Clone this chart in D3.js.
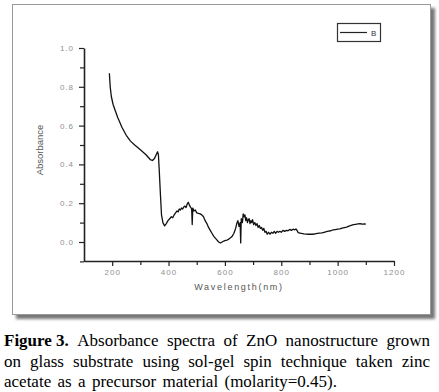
<!DOCTYPE html>
<html>
<head>
<meta charset="utf-8">
<script src="https://cdn.jsdelivr.net/npm/d3@7"></script>
<style>
  body { margin: 0; background: #fff; }
  svg { display: block; }
</style>
</head>
<body>
<div class="fig"></div>
<script>
// spectrum
var wavelength = [190, 193, 197, 203, 210, 220, 235, 250, 265, 280, 300, 320, 335, 343, 350, 356, 361, 364, 367, 371, 375, 380, 386, 392, 398, 404, 410, 415, 420, 425, 430, 434, 438, 442, 446, 450, 454, 458, 462, 466, 470, 474, 478, 482, 484, 486, 490, 495, 500, 506, 512, 518, 524, 530, 536, 542, 548, 554, 560, 566, 572, 578, 584, 590, 596, 602, 608, 614, 620, 626, 632, 638, 642, 646, 650, 654, 656, 658, 662, 665, 668, 671, 674, 677, 680, 683, 686, 689, 692, 695, 698, 702, 706, 710, 714, 718, 722, 726, 730, 734, 738, 742, 746, 750, 755, 760, 765, 770, 775, 780, 785, 790, 795, 800, 806, 812, 818, 824, 830, 836, 842, 848, 852, 856, 860, 866, 872, 880, 888, 896, 904, 912, 920, 928, 936, 944, 952, 960, 968, 976, 984, 992, 1000, 1008, 1016, 1024, 1032, 1040, 1048, 1056, 1064, 1072, 1080, 1088, 1096, 1100];
var absorbance = [0.87, 0.80, 0.75, 0.71, 0.68, 0.64, 0.59, 0.55, 0.52, 0.50, 0.475, 0.45, 0.425, 0.42, 0.43, 0.45, 0.465, 0.45, 0.37, 0.25, 0.14, 0.10, 0.083, 0.095, 0.11, 0.12, 0.13, 0.125, 0.14, 0.15, 0.16, 0.155, 0.17, 0.165, 0.175, 0.17, 0.18, 0.185, 0.178, 0.195, 0.205, 0.19, 0.18, 0.17, 0.09, 0.175, 0.16, 0.165, 0.15, 0.148, 0.145, 0.14, 0.13, 0.11, 0.095, 0.075, 0.06, 0.045, 0.03, 0.02, 0.01, 0.0, -0.005, 0.0, 0.005, 0.008, 0.01, 0.015, 0.022, 0.03, 0.045, 0.07, 0.095, 0.11, 0.08, 0.10, -0.005, 0.12, 0.10, 0.145, 0.13, 0.14, 0.11, 0.125, 0.10, 0.115, 0.12, 0.095, 0.11, 0.10, 0.115, 0.09, 0.10, 0.085, 0.095, 0.075, 0.085, 0.07, 0.075, 0.06, 0.07, 0.05, 0.055, 0.04, 0.05, 0.04, 0.05, 0.045, 0.055, 0.045, 0.055, 0.05, 0.055, 0.05, 0.06, 0.055, 0.06, 0.058, 0.065, 0.06, 0.066, 0.063, 0.067, 0.06, 0.048, 0.046, 0.044, 0.042, 0.041, 0.04, 0.04, 0.04, 0.042, 0.044, 0.046, 0.047, 0.05, 0.053, 0.056, 0.058, 0.062, 0.064, 0.066, 0.068, 0.071, 0.074, 0.077, 0.082, 0.086, 0.089, 0.091, 0.093, 0.094, 0.092, 0.093, 0.092];
var xTicks = [200, 400, 600, 800, 1000, 1200];
var xMinor = [300, 500, 700, 900, 1100];
var yTicks = [0.0, 0.2, 0.4, 0.6, 0.8, 1.0];
var yMinor = [-0.1, 0.1, 0.3, 0.5, 0.7, 0.9];
var seriesName = "B";
var captionLines = [
  [{t: "Figure 3.", b: true}, {t: "Absorbance"}, {t: "spectra"}, {t: "of"}, {t: "ZnO"}, {t: "nanostructure"}, {t: "grown"}],
  [{t: "on"}, {t: "glass"}, {t: "substrate"}, {t: "using"}, {t: "sol-gel"}, {t: "spin"}, {t: "technique"}, {t: "taken"}, {t: "zinc"}],
  [{t: "acetate"}, {t: "as"}, {t: "a"}, {t: "precursor"}, {t: "material"}, {t: "(molarity=0.45)."}]
];

var W = 439, H = 392;
var svg = d3.select(".fig").append("svg")
    .attr("width", W)
    .attr("height", H);

var defs = svg.append("defs");
var f = defs.append("filter").attr("id", "shadow")
    .attr("x", "-5%").attr("y", "-5%").attr("width", "115%").attr("height", "115%");
f.append("feDropShadow").attr("dx", 4).attr("dy", 4).attr("stdDeviation", 1.5)
    .attr("flood-color", "#555").attr("flood-opacity", 0.8);

//outer frame with shadow
svg.append("rect")
    .attr("x", 12.5).attr("y", 4.5)
    .attr("width", 418).attr("height", 310)
    .attr("fill", "#fff")
    .attr("stroke", "#999")
    .attr("filter", "url(#shadow)");

var x = d3.scaleLinear().domain([100, 1200]).range([84, 394]);
var y = d3.scaleLinear().domain([-0.1, 1.0]).range([261.4, 48]);

var tickGrey = "#909090";

//x axis
var xAxis = svg.append("g").attr("transform", "translate(0,261)")
    .call(d3.axisBottom(x).tickValues(xTicks).tickSize(5).tickSizeOuter(0).tickFormat(d3.format("d")));
svg.append("g").attr("transform", "translate(0,261)")
    .call(d3.axisBottom(x).tickValues(xMinor).tickSize(4).tickSizeOuter(0).tickFormat(""))
    .select(".domain").remove();

//y axis
var yAxis = svg.append("g").attr("transform", "translate(84,0)")
    .call(d3.axisLeft(y).tickValues(yTicks).tickSize(5).tickSizeOuter(0).tickFormat(d3.format(".1f")));
svg.append("g").attr("transform", "translate(84,0)")
    .call(d3.axisLeft(y).tickValues(yMinor).tickSize(4).tickSizeOuter(0).tickFormat(""))
    .select(".domain").remove();

svg.selectAll(".domain").attr("stroke", "#222").attr("stroke-width", 1.6);
svg.selectAll(".tick line").attr("stroke", "#222").attr("stroke-width", 1.2);
svg.selectAll(".tick text")
    .attr("fill", tickGrey)
    .attr("font-family", "Liberation Sans, Arial, sans-serif")
    .attr("font-size", "8px")
    .attr("letter-spacing", "1px");
xAxis.selectAll(".tick text").attr("dy", "0.71em").attr("y", 8);
yAxis.selectAll(".tick text").attr("x", -10);

//axis titles
svg.append("text")
    .attr("x", 239).attr("y", 290)
    .attr("text-anchor", "middle")
    .attr("font-family", "Liberation Sans, Arial, sans-serif")
    .attr("font-size", "9px")
    .attr("letter-spacing", "1.7px")
    .attr("fill", "#555")
    .text("Wavelength(nm)");
svg.append("text")
    .attr("transform", "translate(43,150) rotate(-90)")
    .attr("text-anchor", "middle")
    .attr("font-family", "Liberation Sans, Arial, sans-serif")
    .attr("font-size", "9.5px")
    .attr("fill", "#555")
    .text("Absorbance");

//spectrum line
var pts = wavelength.map(function(d, i) { return [d, absorbance[i]]; });
var line = d3.line().x(function(d) { return x(d[0]); }).y(function(d) { return y(d[1]); });
svg.append("path")
    .datum(pts)
    .attr("d", line)
    .attr("fill", "none")
    .attr("stroke", "#111")
    .attr("stroke-width", 1.3)
    .attr("stroke-linejoin", "round");

//legend
var lg = svg.append("g").attr("transform", "translate(337,23)");
lg.append("rect").attr("x", 0.5).attr("y", 0.5).attr("width", 43).attr("height", 18)
    .attr("fill", "#fff").attr("stroke", "#333").attr("stroke-width", 1.2);
lg.append("line").attr("x1", 3).attr("x2", 30).attr("y1", 9.5).attr("y2", 9.5)
    .attr("stroke", "#222").attr("stroke-width", 1.2);
lg.append("text").attr("x", 34).attr("y", 12.5)
    .attr("font-family", "Liberation Sans, Arial, sans-serif")
    .attr("font-size", "8px")
    .attr("fill", "#334")
    .text(seriesName);

//caption, justified word by word
var cap = svg.append("g");
var lineY = [346, 367, 387];
var left = 4, right = 430, lastRight = 337;
captionLines.forEach(function(words, li) {
  var nodes = words.map(function(w) {
    return cap.append("text")
        .attr("y", lineY[li])
        .attr("font-family", "Liberation Serif, Times New Roman, serif")
        .attr("font-size", "17px")
        .attr("font-weight", w.b ? "bold" : "normal")
        .attr("fill", "#000")
        .text(w.t);
  });
  var widths = nodes.map(function(n) { return n.node().getComputedTextLength(); });
  var total = d3.sum(widths);
  var end = li < captionLines.length - 1 ? right : lastRight;
  var gap = (end - left - total) / (words.length - 1);
  var cx = left;
  nodes.forEach(function(n, i) {
    n.attr("x", cx);
    cx += widths[i] + gap;
  });
});
</script>
</body>
</html>
